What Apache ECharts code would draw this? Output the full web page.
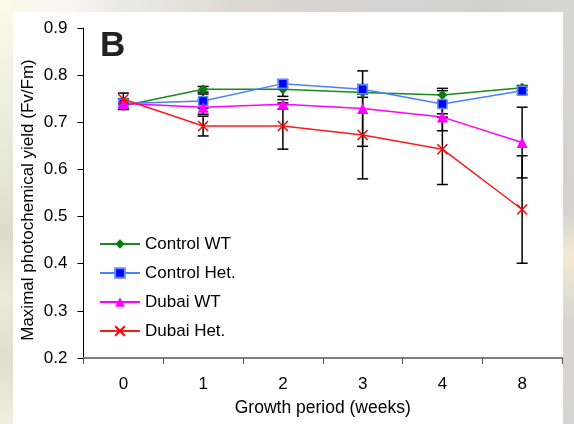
<!DOCTYPE html>
<html>
<head>
<meta charset="utf-8">
<script src="https://cdn.jsdelivr.net/npm/echarts@6/dist/echarts.min.js"></script>
<style>
  html, body { margin: 0; padding: 0; width: 574px; height: 424px; overflow: hidden; }
  body { position: relative; background: linear-gradient(to bottom, #d6d6d4 0%, #d4d3d0 50%, #f3ead0 60%, #d8d6d2 75%, #d4d4d4 100%); }
  #topstrip { position: absolute; left: 0; top: 0; width: 574px; height: 12px;
    background: linear-gradient(to right, #fdfaea 0%, #f7f6f2 12%, #ecebe6 20%, #dedad3 40%, #d6d4d0 55%, #d4d4d6 70%, #d2d2cc 85%, #d6d6d4 100%); }
  #leftstrip { position: absolute; left: 0; top: 0; width: 13px; height: 424px;
    background: linear-gradient(to bottom, #fdfbe9 0%, #eef0e2 20%, #e6e8d6 40%, #dcdcca 55%, #e9ead8 70%, #dedfcc 85%, #f0f0e0 100%); }
  #panel { position: absolute; left: 13px; top: 12px; width: 550px; height: 412px; background: #ffffff; }
  #chart { position: absolute; left: 0; top: 0; width: 574px; height: 424px; }
</style>
</head>
<body>
<div id="topstrip"></div>
<div id="leftstrip"></div>
<div id="panel"></div>
<div id="chart"></div>
<script>
const categories = ['0', '1', '2', '3', '4', '8'];
const yTicks = [0.2, 0.3, 0.4, 0.5, 0.6, 0.7, 0.8, 0.9];
const seriesNames = ['Control WT', 'Control Het.', 'Dubai WT', 'Dubai Het.'];

const controlWT  = [0.735, 0.770, 0.770, 0.763, 0.758, 0.773];
const controlHet = [0.740, 0.745, 0.782, 0.770, 0.739, 0.767];
const dubaiWT    = [0.740, 0.732, 0.738, 0.729, 0.711, 0.657];
const dubaiHet   = [0.749, 0.692, 0.692, 0.673, 0.643, 0.515];

const controlWTErr  = [0.008, 0.006, 0.015, 0.010, 0.014, 0.005];
const controlHetErr = [0.010, 0.015, 0.008, 0.010, 0.028, 0.008];
const dubaiWTErr    = [0.010, 0.015, 0.010, 0.080, 0.029, 0.075];
const dubaiHetErr   = [0.013, 0.021, 0.049, 0.093, 0.075, 0.114];

const FONT = 'Liberation Sans, Arial, sans-serif';

const allValues = [controlWT, controlHet, dubaiWT, dubaiHet];
const allErrs = [controlWTErr, controlHetErr, dubaiWTErr, dubaiHetErr];
const errData = [];
allValues.forEach((vals, s) => {
  vals.forEach((v, i) => {
    errData.push([i, +(v - allErrs[s][i]).toFixed(4), +(v + allErrs[s][i]).toFixed(4)]);
  });
});

const chart = echarts.init(document.getElementById('chart'), null, { renderer: 'canvas' });

const option = {
  backgroundColor: 'transparent',
  animation: false,
  textStyle: { fontFamily: FONT },
  grid: { left: 83.5, right: 12, top: 28, bottom: 66, containLabel: false },
  legend: {
    orient: 'vertical',
    left: 99,
    top: 235.5,
    itemWidth: 40,
    itemHeight: 12,
    itemGap: 12,
    padding: 0,
    textStyle: { fontSize: 17, color: '#000', fontFamily: FONT },
    data: seriesNames
  },
  xAxis: {
    type: 'category',
    data: categories,
    boundaryGap: true,
    name: 'Growth period (weeks)',
    nameLocation: 'middle',
    nameGap: 41,
    nameTextStyle: { fontSize: 17.5, color: '#000', fontFamily: FONT },
    axisLine: { lineStyle: { color: '#808080', width: 2 } },
    axisTick: { show: true, inside: false, length: 6, lineStyle: { color: '#555', width: 1 } },
    axisLabel: { fontSize: 17, color: '#000', margin: 18, fontFamily: FONT },
    splitLine: { show: false }
  },
  yAxis: {
    type: 'value',
    min: yTicks[0],
    max: yTicks[yTicks.length - 1],
    interval: 0.1,
    axisLine: { show: true, lineStyle: { color: '#000', width: 1 } },
    axisTick: { show: true, inside: false, length: 6, lineStyle: { color: '#000', width: 1 } },
    axisLabel: { fontSize: 17, color: '#000', margin: 16, fontFamily: FONT,
      formatter: v => v.toFixed(1) },
    splitLine: { show: false }
  },
  graphic: [
    {
      type: 'text',
      left: 100, top: 29,
      style: { text: 'B', font: 'bold 35px ' + FONT, fill: '#222' },
      z: 100
    },
    {
      type: 'text',
      x: 28, y: 200,
      rotation: Math.PI / 2,
      style: {
        text: 'Maximal photochemical yield (Fv/Fm)',
        font: '17px ' + FONT,
        fill: '#000',
        align: 'center',
        verticalAlign: 'middle'
      }
    }
  ],
  series: [
    {
      type: 'custom',
      name: 'errors',
      z: 1,
      data: errData,
      encode: { x: 0, y: [1, 2] },
      renderItem: function (params, api) {
        const x = api.value(0);
        const lo = api.coord([x, api.value(1)]);
        const hi = api.coord([x, api.value(2)]);
        const hw = 5.5;
        const st = { stroke: '#000', lineWidth: 1.5 };
        return {
          type: 'group',
          children: [
            { type: 'line', shape: { x1: lo[0], y1: lo[1], x2: hi[0], y2: hi[1] }, style: st },
            { type: 'line', shape: { x1: lo[0] - hw, y1: lo[1], x2: lo[0] + hw, y2: lo[1] }, style: st },
            { type: 'line', shape: { x1: hi[0] - hw, y1: hi[1], x2: hi[0] + hw, y2: hi[1] }, style: st }
          ]
        };
      }
    },
    {
      type: 'line', name: seriesNames[0], data: controlWT, z: 3,
      symbol: 'diamond', symbolSize: 10,
      lineStyle: { color: '#1a8a1a', width: 1.5 },
      itemStyle: { color: '#0a7a0a', borderColor: '#0a7a0a', borderWidth: 0 }
    },
    {
      type: 'line', name: seriesNames[1], data: controlHet, z: 4,
      symbol: 'rect', symbolSize: 9,
      lineStyle: { color: '#4a80ff', width: 1.5 },
      itemStyle: { color: '#0000ff', borderColor: '#5a8cff', borderWidth: 1.5 }
    },
    {
      type: 'line', name: seriesNames[2], data: dubaiWT, z: 5,
      symbol: 'triangle', symbolSize: 11,
      lineStyle: { color: '#ff00ff', width: 1.5 },
      itemStyle: { color: '#ff00ff', borderColor: '#ff00ff', borderWidth: 0 }
    },
    {
      type: 'line', name: seriesNames[3], data: dubaiHet, z: 6,
      symbol: 'path://M0,0L10,10M10,0L0,10', symbolSize: 10,
      lineStyle: { color: '#ff1a1a', width: 1.5 },
      itemStyle: { color: '#ff0000', borderColor: '#ff0000', borderWidth: 1.5 }
    }
  ]
};

chart.setOption(option);
</script>
</body>
</html>
